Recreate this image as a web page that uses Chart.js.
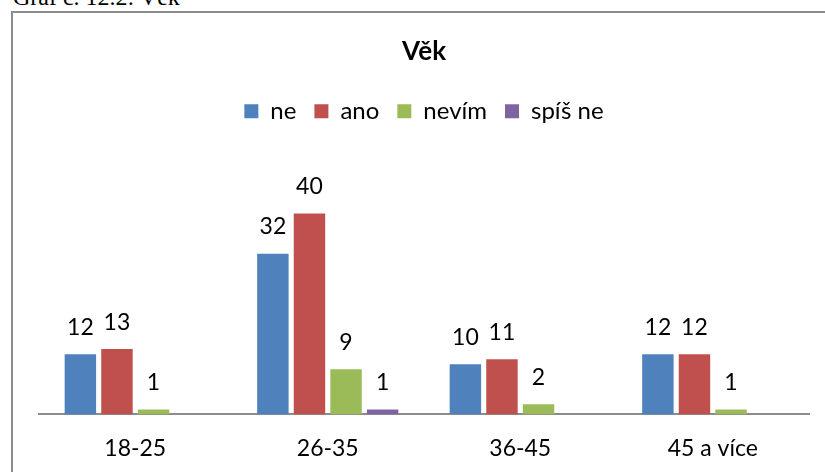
<!DOCTYPE html>
<html lang="cs">
<head>
  <meta charset="UTF-8" />
  <title>Věk</title>
  <script src="https://cdn.jsdelivr.net/npm/chart.js"></script>
  <style>
    body { margin: 0; background: #fff; width: 825px; height: 472px; overflow: hidden; position: relative; }
    .caption {
      position: absolute; left: 13px; top: -15px;
      font-family: 'Liberation Serif', 'Times New Roman', serif;
      font-size: 24px; line-height: 24px; color: #000; white-space: nowrap;
    }
    .frame {
      position: absolute; left: 11px; top: 11px; width: 830px; height: 480px;
      border-left: 2px solid #8c8c8c; border-top: 2px solid #8c8c8c;
    }
    .wrap { position: absolute; left: 0; top: 0; width: 825px; height: 490px; }
  </style>
</head>
<body>
  <div class="caption">Graf č. 12.2: Věk</div>
  <div class="frame"></div>
  <div class="wrap"><canvas id="chart"></canvas></div>

  <script>
    const kategorie = ["18-25", "26-35", "36-45", "45 a více"];
    const ne = [12, 32, 10, 12];
    const ano = [13, 40, 11, 12];
    const nevim = [1, 9, 2, 1];
    const spisNe = [null, 1, null, null];

    const pismo = "Lato, 'Open Sans', sans-serif";

    // popisky hodnot nad sloupci
    const hodnoty = {
      id: 'hodnoty',
      afterDatasetsDraw(chart) {
        const ctx = chart.ctx;
        ctx.save();
        ctx.font = '23px ' + pismo;
        ctx.fillStyle = '#000';
        ctx.textAlign = 'center';
        ctx.textBaseline = 'middle';
        chart.data.datasets.forEach((ds, i) => {
          chart.getDatasetMeta(i).data.forEach((bar, j) => {
            const v = ds.data[j];
            if (v === null || v === undefined) return;
            ctx.fillText(String(v), bar.x, bar.y - 27);
          });
        });
        ctx.restore();
      }
    };

    new Chart(document.getElementById('chart'), {
      type: 'bar',
      data: {
        labels: kategorie,
        datasets: [
          { label: 'ne', data: ne, backgroundColor: '#4F81BD' },
          { label: 'ano', data: ano, backgroundColor: '#C0504D' },
          { label: 'nevím', data: nevim, backgroundColor: '#9BBB59' },
          { label: 'spíš ne', data: spisNe, backgroundColor: '#8064A2' }
        ]
      },
      options: {
        responsive: true,
        maintainAspectRatio: false,
        animation: false,
        categoryPercentage: 0.76,
        barPercentage: 0.86,
        layout: { padding: { left: 39, right: 16, top: 0, bottom: 8 } },
        plugins: {
          title: {
            display: true,
            text: 'Věk',
            color: '#000',
            font: { family: pismo, size: 26, weight: 'bold' },
            padding: { top: 36, bottom: 14 }
          },
          legend: {
            display: true,
            labels: {
              color: '#000',
              font: { family: pismo, size: 24 },
              boxWidth: 14,
              boxHeight: 14,
              padding: 18
            }
          },
          tooltip: { enabled: false }
        },
        scales: {
          x: {
            grid: { display: false, drawTicks: false },
            border: { display: true, color: '#8c8c8c', width: 2 },
            ticks: { color: '#000', font: { family: pismo, size: 23 }, padding: 20 }
          },
          y: {
            display: false,
            min: 0,
            max: 56
          }
        }
      },
      plugins: [hodnoty]
    });
  </script>
</body>
</html>
